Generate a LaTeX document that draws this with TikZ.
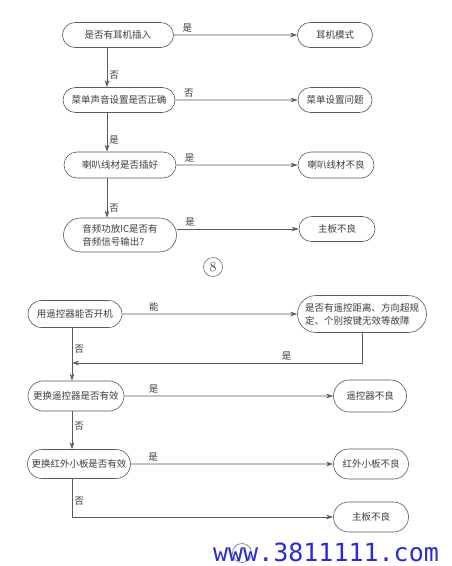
\documentclass[tikz,border=0pt]{standalone}
\usepackage{fontspec}
\usepackage{tikz}
\usetikzlibrary{arrows.meta, shapes.misc}
\newfontfamily\cjk{Noto Sans CJK SC}
\newfontfamily\wmfont{DejaVu Sans Mono}
\definecolor{linegray}{HTML}{5A5A5A}
\definecolor{textgray}{HTML}{3C3C3C}
\definecolor{wmblue}{HTML}{2B2BD0}

\begin{document}
\begin{tikzpicture}[x=1pt, y=-1pt, >={Stealth[length=7pt, width=4.5pt]},
    box/.style={rounded rectangle, draw=linegray, line width=0.6pt, text=textgray,
        font=\cjk\fontsize{9.5}{13}\selectfont, inner xsep=6pt, inner ysep=2pt, align=left},
    lbl/.style={text=textgray, font=\cjk\fontsize{9.5}{11}\selectfont, inner sep=2pt},
    link/.style={draw=linegray, line width=0.6pt, ->},
    numcirc/.style={circle, draw=linegray, line width=0.5pt, text=textgray,
        minimum size=19pt, inner sep=0pt, font=\fontsize{14}{14}\selectfont}]

\fill[white] (0,0) rectangle (452,566);
\useasboundingbox (0,0) rectangle (452,566);

% 图8：无声音
\begin{scope}
    % 判断框
    \node[box, minimum width=123pt, minimum height=25pt] (q1) at (118,35) {是否有耳机插入};
    \node[box, minimum width=124pt, minimum height=25pt] (q2) at (119,100) {菜单声音设置是否正确};
    \node[box, minimum width=124pt, minimum height=26pt] (q3) at (120,165) {喇叭线材是否插好};
    \node[box, minimum width=125pt, minimum height=34pt] (q4) at (120,235) {音频功放IC是否有\\音频信号输出？};

    % 结果框
    \node[box, minimum width=87pt, minimum height=25pt] (r1) at (335,35) {耳机模式};
    \node[box, minimum width=86pt, minimum height=25pt] (r2) at (335,100) {菜单设置问题};
    \node[box, minimum width=88pt, minimum height=26pt] (r3) at (336,165) {喇叭线材不良};
    \node[box, minimum width=88pt, minimum height=25pt] (r4) at (337,229) {主板不良};

    % 连线
    \coordinate (ltop) at (107,0);
    \draw[link] (q1) -- (r1) node[lbl, pos=0.11, above] {是};
    \draw[link] (q2) -- (r2) node[lbl, pos=0.11, above] {否};
    \draw[link] (q3) -- (r3) node[lbl, pos=0.11, above] {是};
    \draw[link] (q4.east |- r4) -- (r4) node[lbl, pos=0.11, above] {是};
    \draw[link] (q1.south -| ltop) -- (q2.north -| ltop) node[lbl, pos=0.7, right] {否};
    \draw[link] (q2.south -| ltop) -- (q3.north -| ltop) node[lbl, pos=0.7, right] {是};
    \draw[link] (q3.south -| ltop) -- (q4.north -| ltop) node[lbl, pos=0.75, right] {否};

    \node[numcirc] (n8) at (213,267) {8};
\end{scope}

% 图9：遥控失灵
\begin{scope}
    % 判断框
    \node[box, minimum width=106pt, minimum height=27pt] (p1) at (75,314) {用遥控器能否开机};
    \node[box, minimum width=141pt, minimum height=37pt] (p2) at (362,314) {是否有遥控距离、方向超规\\定、个别按键无效等故障};
    \node[box, minimum width=108pt, minimum height=30pt] (p3) at (76,396) {更换遥控器是否有效};
    \node[box, minimum width=115pt, minimum height=29pt] (p4) at (79,464) {更换红外小板是否有效};

    % 结果框
    \node[box, minimum width=85pt, minimum height=32pt] (s1) at (370,396) {遥控器不良};
    \node[box, minimum width=87pt, minimum height=30pt] (s2) at (371,464) {红外小板不良};
    \node[box, minimum width=87pt, minimum height=30pt] (s3) at (371,517) {主板不良};

    % 连线
    \coordinate (lbot) at (72,0);
    \coordinate (back) at (72,363);
    \draw[link] (p1) -- (p2) node[lbl, pos=0.18, above] {能};
    \draw[link] (p2.south) |- (back) node[lbl, pos=0.63, above] {是};
    \draw[link] (p1.south -| lbot) -- (p3.north -| lbot) node[lbl, pos=0.4, right] {否};
    \draw[link] (p3) -- (s1) node[lbl, pos=0.14, above] {是};
    \draw[link] (p3.south -| lbot) -- (p4.north -| lbot) node[lbl, pos=0.4, right] {否};
    \draw[link] (p4) -- (s2) node[lbl, pos=0.11, above] {是};
    \draw[link] (p4.south -| lbot) |- (s3) node[lbl, pos=0.29, right] {否};

    % 图号圈（被水印遮住）
    \node[numcirc] (n9) at (242,553) {};
\end{scope}

% 水印
\node[text=wmblue, font=\wmfont\fontsize{25}{25}\selectfont, inner sep=0pt] (wm) at (326,552) {www.3811111.com};

\end{tikzpicture}
\end{document}
